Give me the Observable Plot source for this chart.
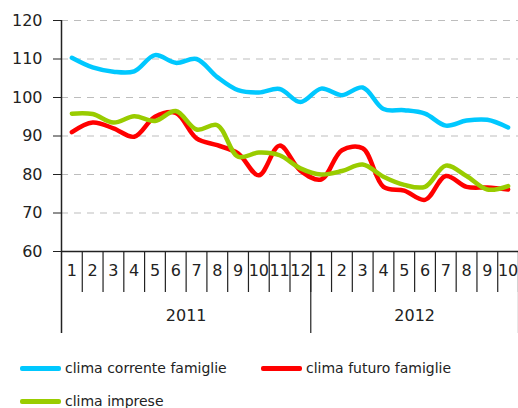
<!DOCTYPE html>
<html>
<head>
<meta charset="utf-8">
<script src="https://cdn.jsdelivr.net/npm/d3@7"></script>
<script src="https://cdn.jsdelivr.net/npm/@observablehq/plot@0.6"></script>
<style>
  body { margin: 0; background: white; }
  #wrap { width: 518px; font-family: "DejaVu Sans", sans-serif; color: #222; }
  #legend { position: relative; width: 518px; height: 68px; font-size: 14px; }
  .item { position: absolute; display: flex; align-items: center; white-space: nowrap; }
  .sw { width: 41px; height: 5px; border-radius: 2px; margin-right: 4px; }
</style>
</head>
<body>
<div id="wrap"><div id="chart"></div><div id="legend"></div></div>
<script>
const months = ["1","2","3","4","5","6","7","8","9","10","11","12","1","2","3","4","5","6","7","8","9","10"];
const years = ["2011", "2012"];
const monthsPerYear = [12, 10];
const yTicks = [60, 70, 80, 90, 100, 110, 120];

const seriesNames = ["clima corrente famiglie", "clima futuro famiglie", "clima imprese"];
const seriesColors = ["#00c8ff", "#ff0000", "#99cc00"];

const climaCorrenteFamiglie = [110.3, 107.8, 106.7, 106.8, 111.0, 109.0, 110.0, 105.3, 101.9, 101.3, 102.2, 98.8,
                               102.3, 100.6, 102.6, 97.0, 96.7, 95.8, 92.7, 94.0, 94.2, 92.2];
const climaFuturoFamiglie   = [91.0, 93.5, 92.0, 89.8, 95.0, 96.0, 89.4, 87.6, 85.5, 79.8, 87.5, 81.0,
                               78.7, 86.3, 86.8, 76.8, 75.8, 73.4, 79.6, 76.8, 76.6, 76.1];
const climaImprese          = [95.8, 95.7, 93.5, 95.1, 93.9, 96.5, 91.7, 92.8, 84.6, 85.7, 85.0, 81.6,
                               80.0, 80.9, 82.6, 79.4, 77.3, 76.8, 82.3, 79.6, 76.1, 77.0];

const seriesValues = [climaCorrenteFamiglie, climaFuturoFamiglie, climaImprese];
const data = seriesValues.flatMap((vals, s) => vals.map((v, i) => ({ i, value: v, series: seriesNames[s] })));

const monthBoundaries = d3.range(months.length + 1).map(k => k - 0.5);
let acc = 0;
const yearInfo = years.map((y, k) => {
  const start = acc; acc += monthsPerYear[k];
  return { year: y, center: (start + acc - 1) / 2, end: acc - 0.5 };
});
const yearBoundaries = yearInfo.map(d => d.end);

const frameH = 231;
const chart = Plot.plot({
  width: 518,
  height: 340,
  marginLeft: 61,
  marginRight: 0,
  marginTop: 20,
  marginBottom: 89,
  style: { fontFamily: "DejaVu Sans, sans-serif", fontSize: "16px", color: "#222", background: "white", overflow: "visible" },
  x: { domain: [-0.5, months.length - 0.5], axis: null },
  y: { domain: [60, 120], axis: null },
  color: { domain: seriesNames, range: seriesColors },
  marks: [
    Plot.gridY(yTicks.slice(1), { stroke: "#bdbdbd", strokeOpacity: 1, strokeDasharray: "7,6" }),
    Plot.axisY(yTicks, { tickSize: 8, tickPadding: 11, label: null, fontSize: 16, stroke: "#222" }),
    Plot.ruleY([60], { stroke: "#222", strokeWidth: 1.3 }),
    Plot.ruleX(monthBoundaries.slice(1), { x: d => d, stroke: "#222", strokeWidth: 1.2, insetTop: frameH, insetBottom: -41 }),
    Plot.ruleX(yearBoundaries, { x: d => d, stroke: "#222", strokeWidth: 1.2, insetTop: frameH, insetBottom: -82 }),
    Plot.ruleX([-0.5], { x: d => d, stroke: "#222", strokeWidth: 1.5, insetBottom: -82 }),
    Plot.text(months, { x: (d, i) => i, text: d => d, frameAnchor: "bottom", dy: 24, fontSize: 16, fill: "#222" }),
    Plot.text(yearInfo, { x: "center", text: "year", frameAnchor: "bottom", dy: 69, fontSize: 16, fill: "#222" }),
    Plot.line(data, { x: "i", y: "value", z: "series", stroke: "series", curve: "catmull-rom", strokeWidth: 4.5, strokeLinecap: "round", strokeLinejoin: "round" })
  ]
});
document.getElementById("chart").appendChild(chart);

const legendPos = [[20, 28], [261, 28], [20, 61]];
const legend = document.getElementById("legend");
seriesNames.forEach((n, k) => {
  const it = document.createElement("div");
  it.className = "item";
  it.style.left = legendPos[k][0] + "px";
  it.style.top = (legendPos[k][1] - 10) + "px";
  it.style.height = "20px";
  it.innerHTML = `<div class="sw" style="background:${seriesColors[k]}"></div><span>${n}</span>`;
  legend.appendChild(it);
});
</script>
</body>
</html>
